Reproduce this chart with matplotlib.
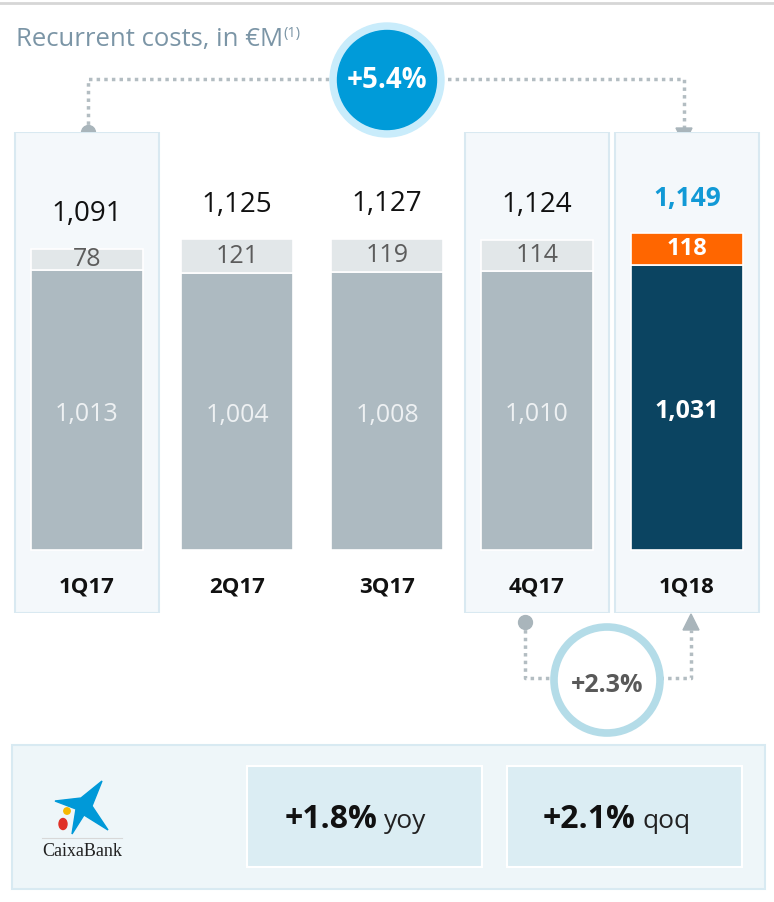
import matplotlib
matplotlib.use("Agg")
import matplotlib.pyplot as plt
from matplotlib.patches import Rectangle, Circle, Polygon, Ellipse
from matplotlib.transforms import blended_transform_factory

# ---------------- data ----------------
quarters = ['1Q17', '2Q17', '3Q17', '4Q17', '1Q18']
base_costs = [1013, 1004, 1008, 1010, 1031]
other_costs = [78, 121, 119, 114, 118]
totals = [1091, 1125, 1127, 1124, 1149]
highlighted = ['1Q17', '4Q17', '1Q18']
yoy_change = '+5.4%'
qoq_change = '+2.3%'
kpi_yoy = ('+1.8%', 'yoy')
kpi_qoq = ('+2.1%', 'qoq')

FONT = ['Open Sans', 'DejaVu Sans']
plt.rcParams['font.family'] = FONT

W, H = 774, 902
fig = plt.figure(figsize=(W / 100, H / 100), dpi=100)
fig.patch.set_facecolor('white')

# overlay axes in pixel coordinates for decorations
ov = fig.add_axes([0, 0, 1, 1], zorder=0)
ov.set_xlim(0, W)
ov.set_ylim(H, 0)
ov.axis('off')

# main bar axes
s = 0.276  # px per unit
y_zero_px, top_px, bot_px = 550, 132, 613
ax = fig.add_axes([12 / W, (H - bot_px) / H, 750 / W, (bot_px - top_px) / H], zorder=2)
ax.patch.set_alpha(0)
ax.set_xlim(-0.5, len(quarters) - 0.5)
ax.set_ylim(-(bot_px - y_zero_px) / s, (y_zero_px - top_px) / s)
ax.axis('off')

# top grey rule and title
ov.plot([0, W], [3, 3], color='#d6d6d6', lw=2)
title = ov.text(16, 46, 'Recurrent costs, in €M', fontsize=18.5, color='#7b95a6',
                va='baseline', ha='left')
ov.annotate('(1)', xy=(1, 1), xycoords=title, xytext=(0.5, 1), textcoords='offset points',
            fontsize=10.5, color='#7b95a6', va='top', ha='left')

# highlight panels behind selected quarters
bt = blended_transform_factory(ax.transData, ax.transAxes)
for i, q in enumerate(quarters):
    if q in highlighted:
        ax.add_patch(Rectangle((i - 0.48, 0), 0.96, 1, transform=bt,
                               facecolor='#f4f8fb', edgecolor='#d9e9f1', lw=1.5, zorder=0))

x = list(range(len(quarters)))
base_colors = ['#adbac1'] * 4 + ['#0b4461']
top_colors = ['#e2e7e9'] * 4 + ['#ff6600']
ax.bar(x, base_costs, width=0.75, color=base_colors, edgecolor='white', lw=1.2, zorder=2)
ax.bar(x, other_costs, bottom=base_costs, width=0.75, color=top_colors,
       edgecolor='white', lw=1.2, zorder=2)

for i, q in enumerate(quarters):
    last = (i == len(quarters) - 1)
    ax.text(i, base_costs[i] / 2 - 15, f'{base_costs[i]:,}', ha='center', va='center',
            fontsize=18, color='white' if last else '#eef1f3',
            fontweight='bold' if last else 'normal', zorder=3)
    ax.text(i, base_costs[i] + other_costs[i] / 2, f'{other_costs[i]:,}', ha='center', va='center',
            fontsize=18 if not last else 17, color='white' if last else '#5c5c5c',
            fontweight='bold' if last else 'normal', zorder=3)
    ax.annotate(f'{totals[i]:,}', xy=(i, totals[i]), xytext=(0, 25), textcoords='offset points',
                ha='center', va='center', fontsize=20 if not last else 19,
                color='#1199d6' if last else '#111111',
                fontweight='bold' if last else 'normal', zorder=3)
    ax.annotate(q, xy=(i, 0), xytext=(0, -27), textcoords='offset points',
                ha='center', va='center', fontsize=16, fontweight='bold', color='#111111', zorder=3)

# ---- top connector (1Q17 -> 1Q18) ----
dot_col = '#a9b5bb'
ls = (0, (1, 1.2))
ov.plot([88, 88, 684, 684], [132, 79, 79, 130], color='#b3bdc2', lw=2.5, ls=ls, zorder=1)
ov.plot(88, 132, 'o', ms=10, color=dot_col, zorder=3)
ov.add_patch(Polygon([[676, 128], [692, 128], [684, 144]], closed=True, color=dot_col, zorder=3))
ov.add_patch(Circle((387, 80), 57, color='#c9ecfb', zorder=2))
ov.add_patch(Circle((387, 80), 49.5, color='#009bd9', zorder=3))
ov.text(387, 81, yoy_change, ha='center', va='center', fontsize=20, fontweight='bold',
        color='white', zorder=4)

# ---- bottom connector (4Q17 -> 1Q18) ----
ov.plot([525, 525, 691, 691], [622, 678, 678, 630], color='#b3bdc2', lw=2.5, ls=ls, zorder=1)
ov.plot(525, 622, 'o', ms=10, color=dot_col, zorder=3)
ov.add_patch(Polygon([[683, 630], [699, 630], [691, 614]], closed=True, color=dot_col, zorder=3))
ov.add_patch(Circle((607, 680), 53, facecolor='white', edgecolor='#b4dce8', lw=5.5, zorder=2))
ov.text(607, 685, qoq_change, ha='center', va='center', fontsize=18, fontweight='bold',
        color='#595959', zorder=4)

# ---- bottom KPI box ----
ov.add_patch(Rectangle((12, 745), 753, 144, facecolor='#eef6f9', edgecolor='#d8eaf2', lw=1.5, zorder=1))
for (x0, split, (big, small)) in [(247, 378, kpi_yoy), (507, 636, kpi_qoq)]:
    ov.add_patch(Rectangle((x0, 766), 235, 101, facecolor='#dbedf3', edgecolor='white', lw=1.5, zorder=2))
    ov.text(split, 820, big, ha='right', va='center', fontsize=23, fontweight='bold',
            color='#111111', zorder=3)
    ov.text(split + 6, 822, small, ha='left', va='center', fontsize=19, color='#222222', zorder=3)

# ---- CaixaBank logo ----
star = [(102, 781), (92, 806), (108, 830), (84, 815), (72, 834), (76, 809), (55, 801), (81, 798)]
ov.add_patch(Polygon(star, closed=True, color='#0099d8', zorder=3))
ov.add_patch(Circle((67, 811), 3.2, color='#f6b800', zorder=3))
ov.add_patch(Ellipse((63, 824), 8, 11, color='#e03127', zorder=3))
ov.plot([42, 122], [838, 838], color='#d8d8d8', lw=0.8, zorder=3)
ov.text(82, 852, 'CaixaBank', ha='center', va='center', fontsize=13,
        family=['Liberation Serif', 'DejaVu Serif'], color='#222222', zorder=3)

fig.savefig('out.png', dpi=100, facecolor='white')
